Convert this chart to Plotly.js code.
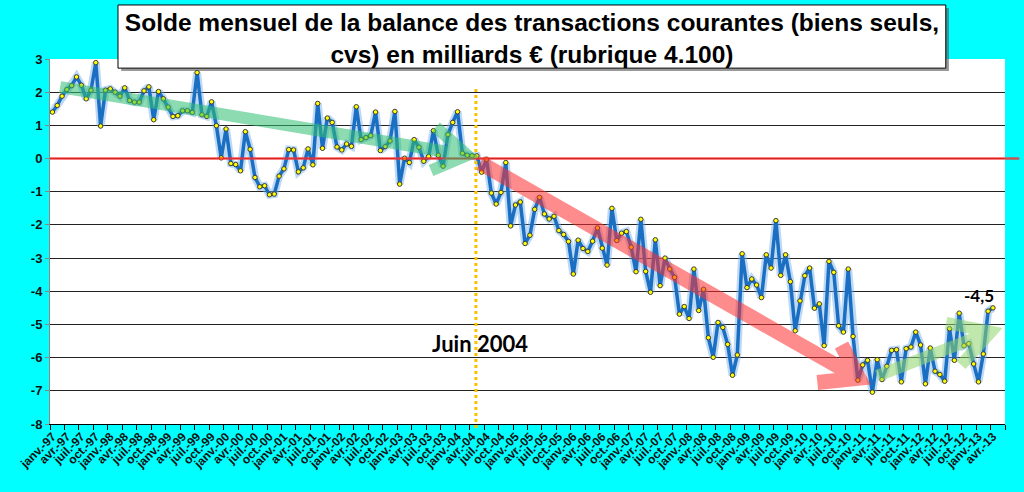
<!DOCTYPE html>
<html>
<head>
<meta charset="utf-8">
<script src="https://cdn.plot.ly/plotly-3.0.1.min.js"></script>
<style>
  body { margin: 0; background: #00ffff; }
  #plot { width: 1024px; height: 492px; }
</style>
</head>
<body>
<div id="plot"></div>
<script>
// solde mensuel, milliards d'euros, janv-97 -> avr-13
var solde97_00 = [
  1.40, 1.60, 1.88, 2.08, 2.20, 2.46, 2.21, 1.80, 2.06, 2.89, 0.98, 2.06,
  2.10, 2.00, 1.88, 2.13, 1.75, 1.70, 1.70, 2.04, 2.16, 1.17, 2.02, 1.80,
  1.55, 1.27, 1.29, 1.44, 1.44, 1.39, 2.59, 1.32, 1.27, 1.71, 0.99, 0.02,
  0.89, -0.15, -0.18, -0.37, 0.81, 0.28, -0.57, -0.85, -0.82, -1.09, -1.07, -0.53
];
var solde01_04 = [
  -0.31, 0.27, 0.26, -0.40, -0.28, 0.29, -0.19, 1.66, 0.31, 1.22, 1.09, 0.35,
  0.26, 0.44, 0.37, 1.56, 0.57, 0.63, 0.69, 1.40, 0.24, 0.36, 0.53, 1.42,
  -0.77, 0.01, -0.12, 0.57, 0.34, -0.08, 0.06, 0.84, 0.10, -0.23, 0.72, 1.09,
  1.41, 0.16, 0.10, 0.08, 0.08, -0.41, -0.02, -1.04, -1.37, -1.02, -0.12, -2.03
];
var solde05_08 = [
  -1.40, -1.31, -2.56, -2.31, -1.53, -1.17, -1.67, -1.82, -1.74, -2.17, -2.29, -2.50,
  -3.48, -2.46, -2.71, -2.80, -2.49, -2.09, -2.70, -3.21, -1.50, -2.47, -2.25, -2.20,
  -2.67, -3.41, -1.83, -3.40, -4.03, -2.45, -3.83, -3.00, -3.33, -3.58, -4.69, -4.46,
  -4.82, -3.33, -4.58, -3.94, -5.40, -5.99, -4.94, -5.09, -5.60, -6.53, -5.92, -2.87
];
var solde09_13 = [
  -3.89, -3.63, -3.81, -4.19, -2.90, -3.30, -1.87, -3.52, -2.90, -3.71, -5.19, -4.29,
  -3.53, -3.30, -4.51, -4.38, -5.64, -3.10, -3.43, -5.04, -5.23, -3.33, -5.36, -6.68,
  -6.22, -6.08, -7.04, -6.06, -6.66, -6.26, -5.78, -5.76, -6.73, -5.73, -5.68, -5.23,
  -5.62, -6.79, -5.71, -6.41, -6.51, -6.71, -5.13, -6.08, -4.66, -5.64, -5.58, -6.19,
  -6.73, -5.89, -4.60, -4.50
];

var mois = ["janv.", "févr.", "mars", "avr.", "mai", "juin",
            "juil.", "août", "sept.", "oct.", "nov.", "déc."];
var annees = ["97", "98", "99", "00", "01", "02", "03", "04",
              "05", "06", "07", "08", "09", "10", "11", "12", "13"];
var yTicks = [3, 2, 1, 0, -1, -2, -3, -4, -5, -6, -7, -8];

var solde = solde97_00.concat(solde01_04, solde05_08, solde09_13);

var categories = [];
for (var a = 0; a < annees.length; a++) {
  for (var m = 0; m < 12; m++) {
    if (categories.length < solde.length) categories.push(mois[m] + "-" + annees[a]);
  }
}

var NCAT = 198; // axe Excel : deux mois vides en fin
function xp(idx) { return (idx + 0.5) / NCAT; }

function arrowPath(pts) {
  // pts: [[idx, val], ...] ; null = nouveau segment
  var s = "";
  var move = true;
  pts.forEach(function (p) {
    if (p === null) { move = true; return; }
    s += (move ? "M " : "L ") + xp(p[0]).toFixed(4) + "," + p[1] + " ";
    move = false;
  });
  return s;
}

var halo = {
  x: categories,
  y: solde,
  type: "scatter",
  mode: "lines",
  line: { width: 8, color: "rgba(110,170,235,0.45)" },
  hoverinfo: "skip",
  showlegend: false
};

var balance = {
  x: categories,
  y: solde,
  type: "scatter",
  mode: "lines+markers",
  line: { width: 3.5, color: "#1b6fc2" },
  marker: { size: 4.5,
            color: "#ffff00",
            line: { width: 1, color: "#3a3a3a" } },
  showlegend: false
};

var shapes = [
  // cadre du titre (ombre puis boite)
  { type: "rect", xref: "paper", yref: "paper", layer: "above",
    x0: 0.0745, x1: 0.9413, y0: 0.967, y1: 1.140,
    fillcolor: "#555", opacity: 0.6, line: { width: 0 } },
  { type: "rect", xref: "paper", yref: "paper", layer: "above",
    x0: 0.0712, x1: 0.938, y0: 0.975, y1: 1.148,
    fillcolor: "#ffffff", line: { width: 1, color: "#000" } },
  // ligne du zero
  { type: "line", xref: "paper", yref: "y", layer: "above",
    x0: 0, x1: 1.015, y0: 0, y1: 0,
    opacity: 0.8, line: { width: 2.5, color: "#ff2a2a" } },
  // juin 2004
  { type: "line", xref: "paper", yref: "paper", layer: "above",
    x0: xp(87.8), x1: xp(87.8), y0: -0.011, y1: 0.923,
    line: { width: 3, color: "#ffc000", dash: "dot" } },
  // fleche verte 97-04
  { type: "path", xref: "paper", yref: "y", layer: "above", opacity: 0.55,
    path: arrowPath([[1.6, 2.15], [86.0, 0.10], null,
                     [79.5, 0.95], [86.0, 0.10], [78.5, -0.36]]),
    line: { width: 12, color: "#2fbf73" } },
  // fleche rouge 04-11
  { type: "path", xref: "paper", yref: "y", layer: "above", opacity: 0.55,
    path: arrowPath([[88.7, -0.13], [167.2, -6.62], null,
                     [163.6, -5.62], [167.2, -6.62], [158.6, -6.75]]),
    line: { width: 15, color: "#ff3030" } },
  // fleche vert clair 11-13
  { type: "path", xref: "paper", yref: "y", layer: "above", opacity: 0.55,
    path: arrowPath([[171.0, -6.55], [194.6, -5.22], null,
                     [185.3, -4.95], [194.6, -5.22], [188.4, -6.22]]),
    line: { width: 12, color: "#8fd66a" } }
];

var dernier = solde[solde.length - 1];

var annotations = [
  { xref: "paper", yref: "y", x: xp(88.7), y: -5.56,
    text: "Juin 2004", showarrow: false,
    font: { family: "Lato, 'Open Sans', sans-serif", size: 22, weight: "bold", color: "#000" } },
  { xref: "x", yref: "y", x: solde.length - 1, y: dernier,
    text: dernier.toFixed(1).replace(".", ","), showarrow: false,
    xanchor: "right", yanchor: "bottom", xshift: 3, yshift: 0,
    font: { family: "Lato, 'Open Sans', sans-serif", size: 17, weight: "bold", color: "#000" } }
];

var layout = {
  width: 1024,
  height: 492,
  margin: { l: 50, r: 19, t: 59, b: 68 },
  paper_bgcolor: "#00ffff",
  plot_bgcolor: "#ffffff",
  showlegend: false,
  title: {
    text: "Solde mensuel de la balance des transactions courantes (biens seuls,<br>cvs) en milliards € (rubrique 4.100)",
    x: 0.5195, xanchor: "center",
    y: 0.937, yanchor: "middle",
    font: { family: "'Liberation Sans', Arial, sans-serif", size: 24.5, weight: "bold", color: "#000" }
  },
  xaxis: {
    type: "category",
    range: [-0.5, NCAT - 0.5],
    tickmode: "linear", tick0: 0, dtick: 3,
    tickson: "boundaries",
    ticks: "outside", ticklen: 5, tickcolor: "#000",
    tickangle: -45,
    tickfont: { family: "'Liberation Sans', Arial, sans-serif", size: 12, weight: "bold", color: "#111" },
    showgrid: false,
    showline: true, linecolor: "#000", linewidth: 1,
    zeroline: false,
    fixedrange: true
  },
  yaxis: {
    range: [-8, 3],
    tickmode: "array",
    tickvals: yTicks,
    ticktext: yTicks.map(function (v) { return String(v); }),
    tickfont: { family: "'Liberation Sans', Arial, sans-serif", size: 13, weight: "bold", color: "#111" },
    ticks: "outside", ticklen: 4, tickcolor: "#888",
    showgrid: true, gridcolor: "#222", gridwidth: 1,
    showline: true, linecolor: "#888", linewidth: 1,
    zeroline: false,
    fixedrange: true
  },
  shapes: shapes,
  annotations: annotations
};

Plotly.newPlot("plot", [halo, balance], layout, { displayModeBar: false, staticPlot: true });
</script>
</body>
</html>
